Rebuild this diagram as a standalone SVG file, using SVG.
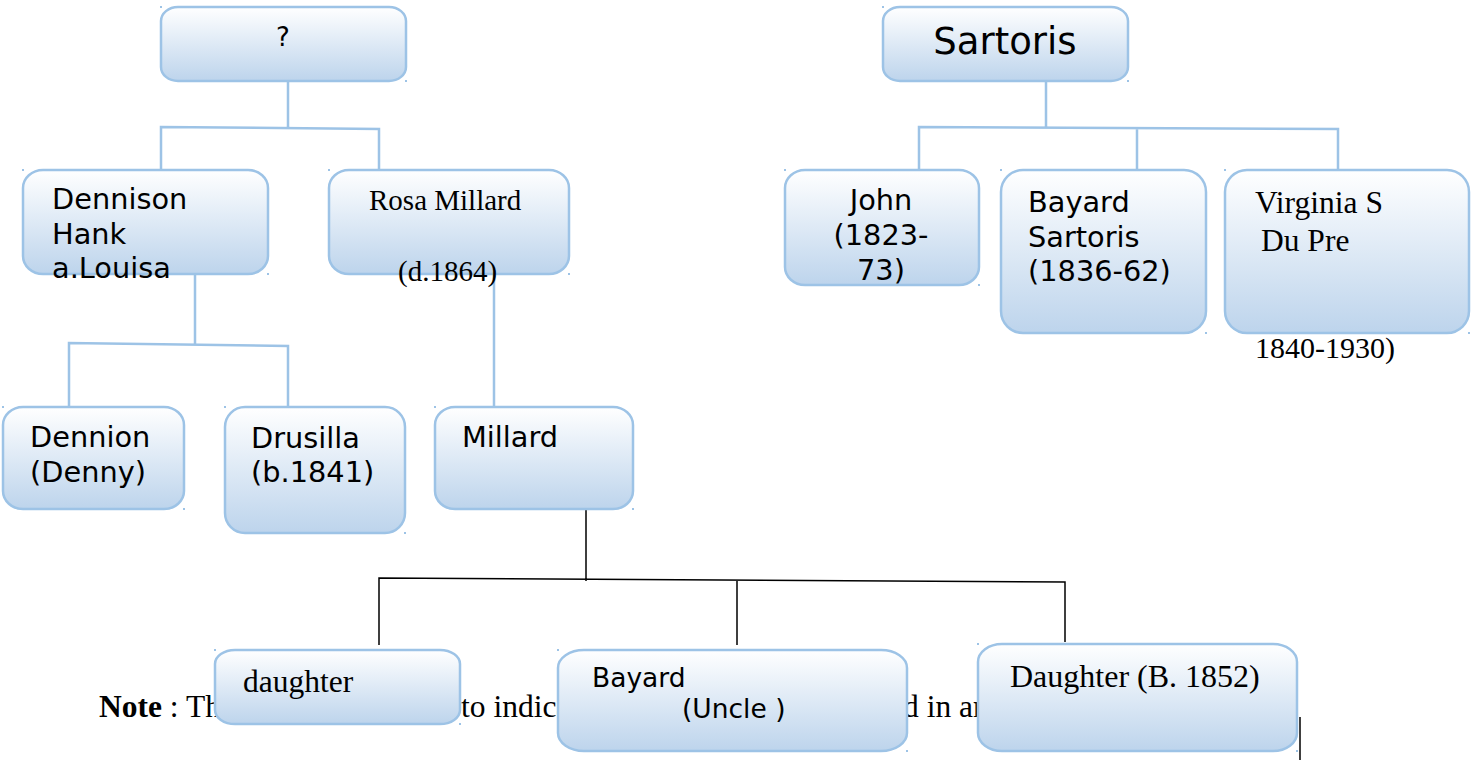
<svg xmlns="http://www.w3.org/2000/svg" width="1473" height="765" viewBox="0 0 1473 765">
<defs>
<linearGradient id="g" x1="0" y1="0" x2="0" y2="1">
<stop offset="0" stop-color="#FFFFFF"/>
<stop offset="1" stop-color="#BDD4EC"/>
</linearGradient>
<style>
.box{fill:url(#g);stroke:#9DC3E6;stroke-width:2.5}
.dot{fill:#9DC3E6}
.c{fill:none;stroke:#9DC3E6;stroke-width:2.5}
.k{fill:none;stroke:#000000;stroke-width:1.5}
.s{font-family:"DejaVu Sans",sans-serif;font-size:28.8px;fill:#000}
.t{font-family:"Liberation Serif",serif;font-size:30px;fill:#000}
</style>
</defs>
<rect width="1473" height="765" fill="#FFFFFF"/>
<g id="note">
<text class="t" x="99" y="717" style="font-size:31.5px"><tspan font-weight="bold">Note</tspan> : Th</text>
<text class="t" x="461" y="717" style="font-size:31.5px">to indica</text>
<text class="t" x="903" y="717" style="font-size:31.5px">d in an</text>
</g>
<g id="connectors">
<path class="c" d="M288 81 V128 M161 170 V127 L379 129 V170"/>
<path class="c" d="M1046 81 V128 M919 170 V127 L1338 129 V170 M1137 128 V170"/>
<path class="c" d="M195 274 V345 M69 407 V343 L288 346 V407"/>
<path class="c" d="M494 274 V407"/>
<path class="k" d="M586 509 V581 M379 645 V578 L1065 582 V642 M737 580 V645"/>
<path class="k" d="M1300 717 V760"/>
</g>
<g id="n-unknown">
<rect class="box" x="161" y="7" width="245" height="74" rx="17" ry="14"/>
<rect class="dot" x="160" y="6" width="2" height="2"/><rect class="dot" x="405" y="80" width="2" height="2"/>
<text class="s" x="283" y="46" text-anchor="middle" style="font-size:26px">?</text>
</g>
<g id="n-sartoris">
<rect class="box" x="883" y="7" width="245" height="74" rx="17" ry="14"/>
<rect class="dot" x="882" y="6" width="2" height="2"/><rect class="dot" x="1127" y="80" width="2" height="2"/>
<text class="s" x="1005" y="54" text-anchor="middle" style="font-size:37px">Sartoris</text>
</g>
<g id="n-dennison">
<rect class="box" x="23" y="170" width="245" height="104" rx="20" ry="18"/>
<rect class="dot" x="22" y="169" width="2" height="2"/><rect class="dot" x="267" y="273" width="2" height="2"/>
<text class="s" x="52" y="209">Dennison</text>
<text class="s" x="52" y="244">Hank</text>
<text class="s" x="52" y="278">a.Louisa</text>
</g>
<g id="n-rosa">
<rect class="box" x="329" y="170" width="240" height="104" rx="20" ry="18"/>
<rect class="dot" x="328" y="169" width="2" height="2"/><rect class="dot" x="568" y="273" width="2" height="2"/>
<text class="t" x="369" y="210" style="font-size:29px">Rosa Millard</text>
<text class="t" x="398" y="281" style="font-size:29px">(d.1864)</text>
</g>
<g id="n-john">
<rect class="box" x="785" y="170" width="194" height="115" rx="20" ry="18"/>
<rect class="dot" x="784" y="169" width="2" height="2"/><rect class="dot" x="978" y="284" width="2" height="2"/>
<text class="s" x="881" y="210" text-anchor="middle">John</text>
<text class="s" x="881" y="245" text-anchor="middle">(1823-</text>
<text class="s" x="881" y="280" text-anchor="middle">73)</text>
</g>
<g id="n-bayard-sartoris">
<rect class="box" x="1001" y="170" width="205" height="163" rx="22" ry="22"/>
<rect class="dot" x="1000" y="169" width="2" height="2"/><rect class="dot" x="1205" y="332" width="2" height="2"/>
<text class="s" x="1028" y="212">Bayard</text>
<text class="s" x="1028" y="247">Sartoris</text>
<text class="s" x="1028" y="281">(1836-62)</text>
</g>
<g id="n-virginia">
<rect class="box" x="1225" y="170" width="244" height="163" rx="22" ry="22"/>
<rect class="dot" x="1224" y="169" width="2" height="2"/><rect class="dot" x="1468" y="332" width="2" height="2"/>
<text class="t" x="1255" y="213" style="font-size:31.5px">Virginia S</text>
<text class="t" x="1261" y="251" style="font-size:31.5px">Du Pre</text>
<text class="t" x="1255" y="358">1840-1930)</text>
</g>
<g id="n-dennion">
<rect class="box" x="3" y="407" width="181" height="102" rx="20" ry="18"/>
<rect class="dot" x="2" y="406" width="2" height="2"/><rect class="dot" x="183" y="508" width="2" height="2"/>
<text class="s" x="30" y="447">Dennion</text>
<text class="s" x="30" y="482">(Denny)</text>
</g>
<g id="n-drusilla">
<rect class="box" x="225" y="407" width="180" height="126" rx="20" ry="20"/>
<rect class="dot" x="224" y="406" width="2" height="2"/><rect class="dot" x="404" y="532" width="2" height="2"/>
<text class="s" x="251" y="448">Drusilla</text>
<text class="s" x="251" y="482">(b.1841)</text>
</g>
<g id="n-millard">
<rect class="box" x="435" y="407" width="198" height="102" rx="20" ry="18"/>
<rect class="dot" x="434" y="406" width="2" height="2"/><rect class="dot" x="632" y="508" width="2" height="2"/>
<text class="s" x="462" y="447">Millard</text>
</g>
<g id="n-daughter">
<rect class="box" x="215" y="650" width="245" height="74" rx="20" ry="14"/>
<rect class="dot" x="214" y="649" width="2" height="2"/><rect class="dot" x="459" y="723" width="2" height="2"/>
<text class="t" x="243" y="692" style="font-size:31.5px">daughter</text>
</g>
<g id="n-bayard-uncle">
<rect class="box" x="558" y="650" width="349" height="101" rx="26" ry="18"/>
<rect class="dot" x="557" y="649" width="2" height="2"/><rect class="dot" x="906" y="750" width="2" height="2"/>
<text class="s" x="592" y="687" style="font-size:26.5px">Bayard</text>
<text class="s" x="682" y="718" style="font-size:26.5px">(Uncle )</text>
</g>
<g id="n-daughter-1852">
<rect class="box" x="978" y="644" width="319" height="107" rx="24" ry="18"/>
<rect class="dot" x="977" y="643" width="2" height="2"/><rect class="dot" x="1296" y="750" width="2" height="2"/>
<text class="t" x="1010" y="687" style="font-size:32px">Daughter (B. 1852)</text>
</g>
</svg>
